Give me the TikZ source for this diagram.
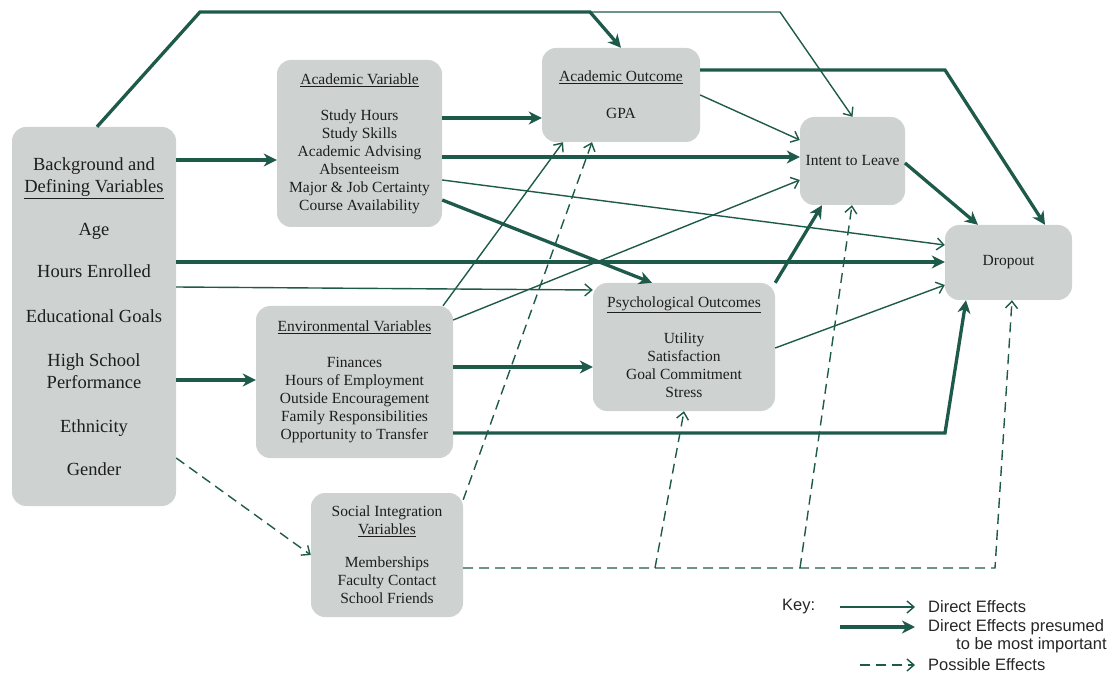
\documentclass[tikz,border=0pt]{standalone}
\usepackage{fontspec}
\setmainfont{Liberation Serif}
\newfontfamily\keyfont{Liberation Sans}
\usetikzlibrary{arrows.meta}
\definecolor{lnk}{RGB}{30,90,74}
\definecolor{boxfill}{RGB}{206,211,209}
\definecolor{txt}{RGB}{30,30,30}
\begin{document}
\begin{tikzpicture}[x=1pt,y=-1pt,
  box/.style={draw=none, fill=boxfill, rounded corners=14pt, inner sep=0pt, align=center, text=txt, font=\fontsize{15.5}{18}\selectfont},
  thinarrow/.style={draw=lnk, line width=1.4pt, -{Straight Barb[length=7pt,width=12pt]}},
  thickarrow/.style={draw=lnk, line width=3.3pt, -{Stealth[length=13pt,width=13pt,inset=4pt]}},
  dasharrow/.style={draw=lnk, line width=1.4pt, dash pattern=on 10pt off 6pt, -{Straight Barb[length=7pt,width=12pt]}},
  keytext/.style={anchor=west, inner sep=0pt, text=black!85, font=\keyfont\fontsize{16.5}{19}\selectfont},
]
\useasboundingbox (0,0) rectangle (1114,676);

% boxes
\node[box, minimum width=164pt, minimum height=379pt, font=\fontsize{18.5}{22}\selectfont] (bg) at (94,316.5)
  {Background and\\ \underline{Defining Variables}\\[21pt] Age\\[20pt] Hours Enrolled\\[23pt] Educational Goals\\[22pt] High School\\ Performance\\[22pt] Ethnicity\\[21pt] Gender};
\node[box, minimum width=165pt, minimum height=167pt] (av) at (359.5,143.5)
  {\underline{Academic Variable}\\[18pt] Study Hours\\ Study Skills\\ Academic Advising\\ Absenteeism\\ Major \& Job Certainty\\ Course Availability};
\node[box, minimum width=158pt, minimum height=94pt] (ao) at (621,95)
  {\underline{Academic Outcome}\\[19pt] GPA};
\node[box, minimum width=105pt, minimum height=88pt] (il) at (852.5,161) {Intent to Leave};
\node[box, minimum width=127pt, minimum height=75pt] (do) at (1008.5,262.5) {Dropout};
\node[box, minimum width=197pt, minimum height=152pt] (ev) at (354.5,382)
  {\underline{Environmental Variables}\\[18pt] Finances\\ Hours of Employment\\ Outside Encouragement\\ Family Responsibilities\\ Opportunity to Transfer};
\node[box, minimum width=182pt, minimum height=128pt] (po) at (684,347)
  {\underline{Psychological Outcomes}\\[18pt] Utility\\ Satisfaction\\ Goal Commitment\\ Stress};
\node[box, minimum width=152pt, minimum height=124pt] (so) at (387,555)
  {Social Integration\\ \underline{Variables}\\[15pt] Memberships\\ Faculty Contact\\ School Friends};

% corner coordinates
\coordinate (c1) at (200,12);
\coordinate (c2) at (590,12);
\coordinate (c3) at (780,12);
\coordinate (c4) at (945,70);
\coordinate (c5) at (945,433);
\coordinate (c6) at (995,568);
\coordinate (b1) at (655,568);
\coordinate (b2) at (800,568);

% connectors
\draw[thickarrow] ([xshift=3pt]bg.north) -- (c1) -- (c2) -- (ao.north);
\draw[thinarrow] (c2) -- (c3) -- (il.north);
\draw[thickarrow] (ao.east |- 0,70) -- (c4) -- (1045,0 |- do.north);
\draw[thinarrow] (ao.east |- 0,95) -- (il.west |- 0,140);
\draw[thickarrow] (905,163) -- (978,0 |- do.north);
\draw[thickarrow] (bg.east |- 0,160) -- (av.west |- 0,160);
\draw[thickarrow] (av.east |- 0,118) -- (ao.west |- 0,118);
\draw[thickarrow] (av.east |- 0,157) -- (il.west |- 0,157);
\draw[thinarrow] (av.east |- 0,180) -- (do.west |- 0,245);
\draw[thickarrow] (av.east |- 0,200) -- (652,0 |- po.north);
\draw[thickarrow] (bg.east |- 0,262) -- (do.west |- 0,262);
\draw[thinarrow] (bg.east |- 0,287) -- (po.west |- 0,290);
\draw[thickarrow] (bg.east |- 0,380) -- (ev.west |- 0,380);
\draw[thinarrow] (443,0 |- ev.north) -- (563,0 |- ao.south);
\draw[thinarrow] (ev.east |- 0,320) -- (il.west |- 0,180);
\draw[thickarrow] (ev.east |- 0,367) -- (po.west |- 0,367);
\draw[thickarrow] (ev.east |- 0,433) -- (c5) -- (966,0 |- do.south);
\draw[thinarrow] (po.east |- 0,348) -- (do.west |- 0,285);
\draw[thickarrow] (po.north east) -- (822,0 |- il.south);
\draw[dasharrow] (bg.east |- 0,458) -- (so.west |- 0,555);
\draw[dasharrow] (so.east |- 0,568) -- (c6) -- (1012,0 |- do.south);
\draw[dasharrow] (b1) -- (684,0 |- po.south);
\draw[dasharrow] (b2) -- (852,0 |- il.south);
\draw[dasharrow] ([yshift=-7pt]so.north east) -- (592,0 |- ao.south);

% key
\node[keytext] (kk) at (782,607) {Key:};
\coordinate (k1a) at (840,607); \coordinate (k1b) at (915,607);
\coordinate (k2a) at (840,627); \coordinate (k2b) at (915,627);
\coordinate (k3a) at (860,665); \coordinate (k3b) at (915,665);
\draw[thinarrow] (k1a) -- (k1b);
\draw[thickarrow] (k2a) -- (k2b);
\draw[dasharrow] (k3a) -- (k3b);
\node[keytext] (kt1) at (928,607) {Direct Effects};
\node[keytext] (kt2) at (928,627) {Direct Effects presumed};
\node[keytext] (kt3) at (956,645) {to be most important};
\node[keytext] (kt4) at (928,665) {Possible Effects};
\end{tikzpicture}
\end{document}
